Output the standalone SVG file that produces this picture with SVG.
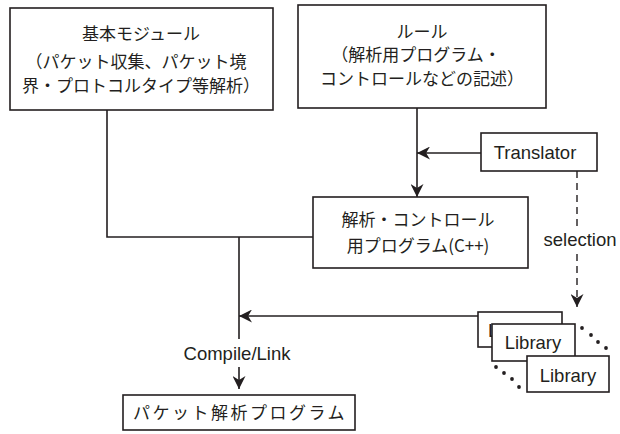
<svg xmlns="http://www.w3.org/2000/svg" width="620" height="434" viewBox="0 0 620 434">
<style>
.box{fill:#fff;stroke:#231f20;stroke-width:1.6}
.ln{fill:none;stroke:#231f20;stroke-width:1.6}
.dash{fill:none;stroke:#231f20;stroke-width:1.4;stroke-dasharray:7,5}
.jp{font-family:"Noto Sans CJK JP","Noto Sans",sans-serif;font-size:17px;fill:#231f20;text-anchor:middle}
.en{font-family:"Liberation Sans",Arial,sans-serif;font-size:18.5px;fill:#231f20;text-anchor:middle}
</style>
<defs>
<marker id="ah2" viewBox="0 0 10 10" refX="10" refY="5" markerWidth="13" markerHeight="13" markerUnits="userSpaceOnUse" orient="auto">
<path d="M0,0 L10,5 L0,10 L3,5 z" fill="#231f20"/>
</marker>
</defs>
<g id="connectors">
<path class="ln" d="M107,110 V237 H313"/>
<path class="ln" d="M239,237 V316"/>
<path class="ln" d="M478,316 H239" marker-end="url(#ah2)"/>
<path class="ln" d="M239,316 V339"/>
<path class="ln" d="M239,367 V389" marker-end="url(#ah2)"/>
<path class="ln" d="M417,108 V197" marker-end="url(#ah2)"/>
<path class="ln" d="M481,153 H417" marker-end="url(#ah2)"/>
<path class="dash" d="M577,171 V228"/>
<path class="dash" d="M577,254 V307" marker-end="url(#ah2)"/>
<text class="en" x="580" y="246">selection</text>
<text class="en" x="237" y="360">Compile/Link</text>
</g>
<g id="base-module">
<rect class="box" x="10" y="8" width="263" height="102"/>
<text class="jp" x="141" y="40">基本モジュール</text>
<text class="jp" x="136" y="68">（パケット収集、パケット境</text>
<text class="jp" x="141" y="92">界・プロトコルタイプ等解析）</text>
</g>
<g id="rule">
<rect class="box" x="298" y="5" width="248" height="103"/>
<text class="jp" x="422" y="38">ルール</text>
<text class="jp" x="416" y="61">（解析用プログラム・</text>
<text class="jp" x="422" y="85">コントロールなどの記述）</text>
</g>
<g id="translator">
<rect class="box" x="481" y="133" width="116" height="38"/>
<text class="en" x="535" y="159">Translator</text>
</g>
<g id="control-program">
<rect class="box" x="313" y="197" width="215" height="71"/>
<text class="jp" x="418" y="226">解析・コントロール</text>
<text class="jp" x="418" y="252">用プログラム(C++)</text>
</g>
<g id="libraries">
<rect class="box" x="478" y="312" width="84" height="35"/>
<text class="en" x="488" y="337" style="text-anchor:start">Li</text>
<rect class="box" x="492" y="324" width="83" height="37"/>
<text class="en" x="533" y="349">Library</text>
<rect class="box" x="527" y="356" width="82" height="36"/>
<text class="en" x="568" y="382">Library</text>
<g fill="#231f20">
<circle cx="582" cy="328" r="1.9"/><circle cx="591" cy="335" r="1.9"/><circle cx="598" cy="342" r="1.9"/><circle cx="606" cy="348" r="1.9"/>
<circle cx="496" cy="367" r="1.9"/><circle cx="504" cy="373" r="1.9"/><circle cx="512" cy="379" r="1.9"/><circle cx="519" cy="387" r="1.9"/>
</g>
</g>
<g id="packet-program">
<rect class="box" x="123" y="395" width="232" height="35"/>
<text class="jp" x="240" y="419" style="letter-spacing:2.5px">パケット解析プログラム</text>
</g>
</svg>
